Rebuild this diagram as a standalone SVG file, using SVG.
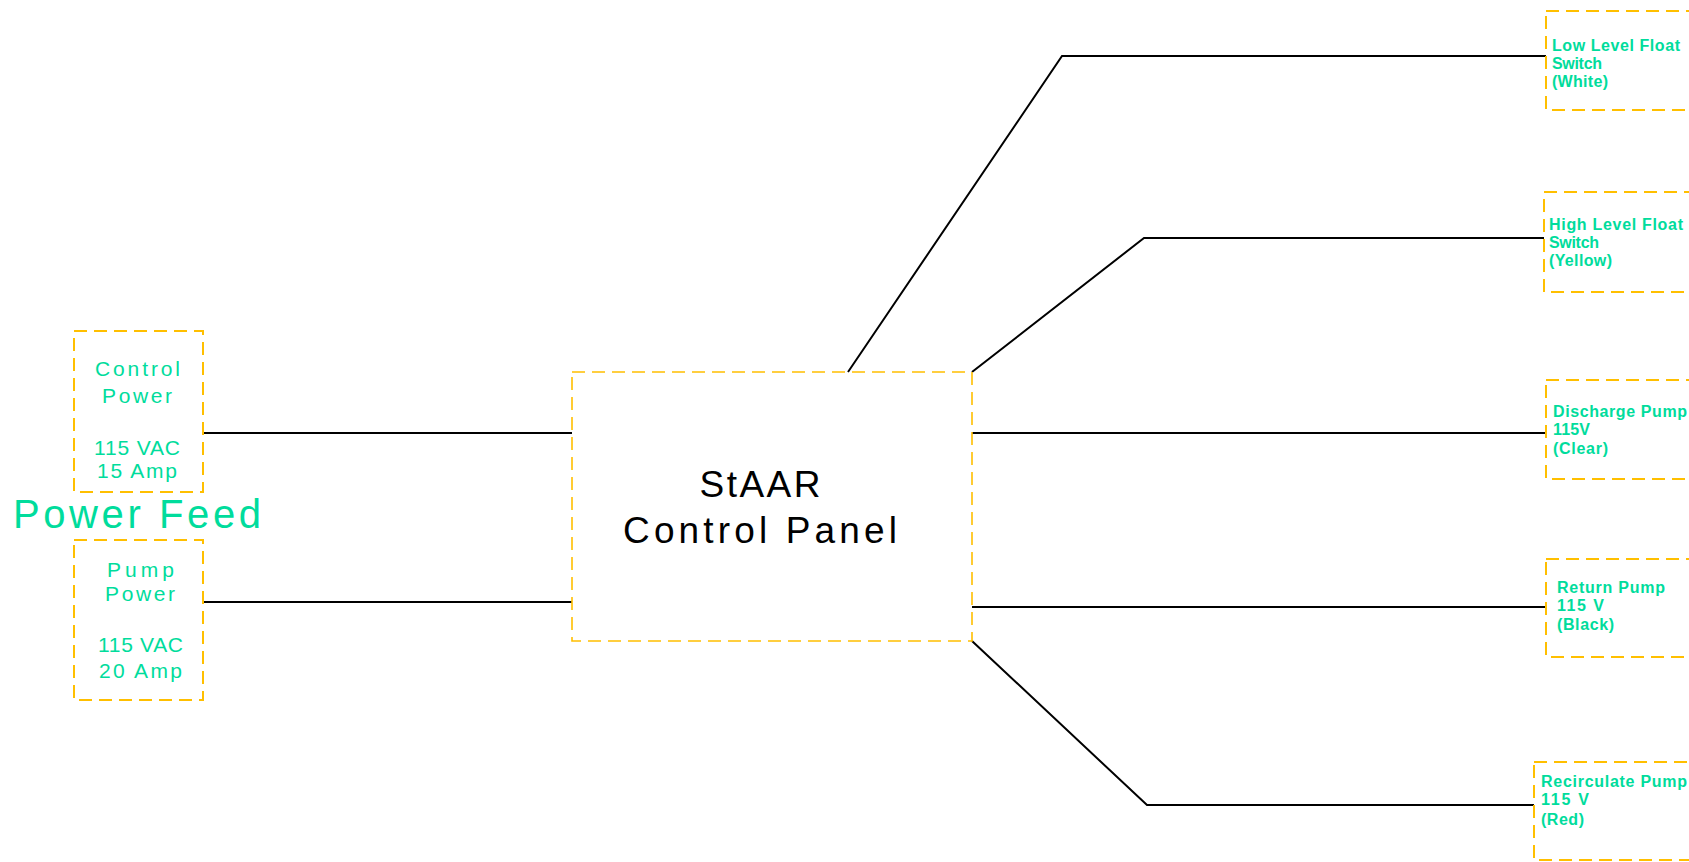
<svg xmlns="http://www.w3.org/2000/svg" width="1689" height="862" viewBox="0 0 1689 862">
<style>
.box{fill:none;stroke:#FFBF00;stroke-width:2;stroke-dasharray:13 7}
.main{fill:none;stroke:#FFBF00;stroke-width:1.6;stroke-dasharray:13 7}
.wire{fill:none;stroke:#000;stroke-width:2}
.t{font-family:"Liberation Sans",Arial,sans-serif;fill:#00DC9C}
.lbl{font-size:21px}
.sm{font-size:16px;font-weight:bold}
.big{font-family:"Liberation Sans",Arial,sans-serif;fill:#000;font-size:37px}
</style>
<rect width="1689" height="862" fill="#fff"/>
<g id="connectors">
<polyline class="wire" points="203,433 572,433"/>
<polyline class="wire" points="203,602 572,602"/>
<polyline class="wire" points="848,372 1062,56 1546,56"/>
<polyline class="wire" points="972,372 1144,238 1544,238"/>
<polyline class="wire" points="972,433 1546,433"/>
<polyline class="wire" points="972,607 1546,607"/>
<polyline class="wire" points="972,641 1147,805 1534,805"/>
</g>
<g id="control-power">
<rect class="box" x="74" y="331" width="129" height="161"/>
<g class="t lbl" text-anchor="middle">
<text x="137.5" y="376" textLength="85" lengthAdjust="spacing">Control</text>
<text x="137" y="403" textLength="70" lengthAdjust="spacing">Power</text>
<text x="137" y="455" textLength="86" lengthAdjust="spacing">115 VAC</text>
<text x="137" y="478" textLength="80" lengthAdjust="spacing">15 Amp</text>
</g>
</g>
<g id="power-feed">
<text class="t" x="13" y="528" font-size="40" textLength="248" lengthAdjust="spacing">Power Feed</text>
</g>
<g id="pump-power">
<rect class="box" x="74" y="540" width="129" height="160"/>
<g class="t lbl" text-anchor="middle">
<text x="140.5" y="577" textLength="67" lengthAdjust="spacing">Pump</text>
<text x="140" y="601" textLength="70" lengthAdjust="spacing">Power</text>
<text x="140.5" y="652" textLength="85" lengthAdjust="spacing">115 VAC</text>
<text x="140.5" y="678" textLength="83" lengthAdjust="spacing">20 Amp</text>
</g>
</g>
<g id="control-panel">
<rect class="main" x="572" y="372" width="400" height="269"/>
<text class="big" x="760" y="497" text-anchor="middle" textLength="121" lengthAdjust="spacing">StAAR</text>
<text class="big" x="760" y="543" text-anchor="middle" textLength="274" lengthAdjust="spacing">Control Panel</text>
</g>
<g id="low-level">
<rect class="box" x="1546" y="11" width="160" height="99"/>
<g class="t sm">
<text x="1552" y="51" textLength="128" lengthAdjust="spacing">Low Level Float</text>
<text x="1552" y="69" textLength="50" lengthAdjust="spacing">Switch</text>
<text x="1552" y="87" textLength="56" lengthAdjust="spacing">(White)</text>
</g>
</g>
<g id="high-level">
<rect class="box" x="1544" y="192" width="160" height="100"/>
<g class="t sm">
<text x="1549" y="230" textLength="134" lengthAdjust="spacing">High Level Float</text>
<text x="1549" y="248" textLength="50" lengthAdjust="spacing">Switch</text>
<text x="1549" y="266" textLength="63" lengthAdjust="spacing">(Yellow)</text>
</g>
</g>
<g id="discharge-pump">
<rect class="box" x="1546" y="380" width="160" height="99"/>
<g class="t sm">
<text x="1553" y="417" textLength="134" lengthAdjust="spacing">Discharge Pump</text>
<text x="1553" y="435" textLength="37" lengthAdjust="spacing">115V</text>
<text x="1553" y="454" textLength="55" lengthAdjust="spacing">(Clear)</text>
</g>
</g>
<g id="return-pump">
<rect class="box" x="1546" y="559" width="160" height="98"/>
<g class="t sm">
<text x="1557" y="593" textLength="108" lengthAdjust="spacing">Return Pump</text>
<text x="1557" y="611" textLength="47" lengthAdjust="spacing">115 V</text>
<text x="1557" y="630" textLength="57" lengthAdjust="spacing">(Black)</text>
</g>
</g>
<g id="recirculate-pump">
<rect class="box" x="1534" y="762" width="170" height="98"/>
<g class="t sm">
<text x="1541" y="787" textLength="146" lengthAdjust="spacing">Recirculate Pump</text>
<text x="1541" y="805" textLength="48" lengthAdjust="spacing">115 V</text>
<text x="1541" y="825" textLength="43" lengthAdjust="spacing">(Red)</text>
</g>
</g>
</svg>
